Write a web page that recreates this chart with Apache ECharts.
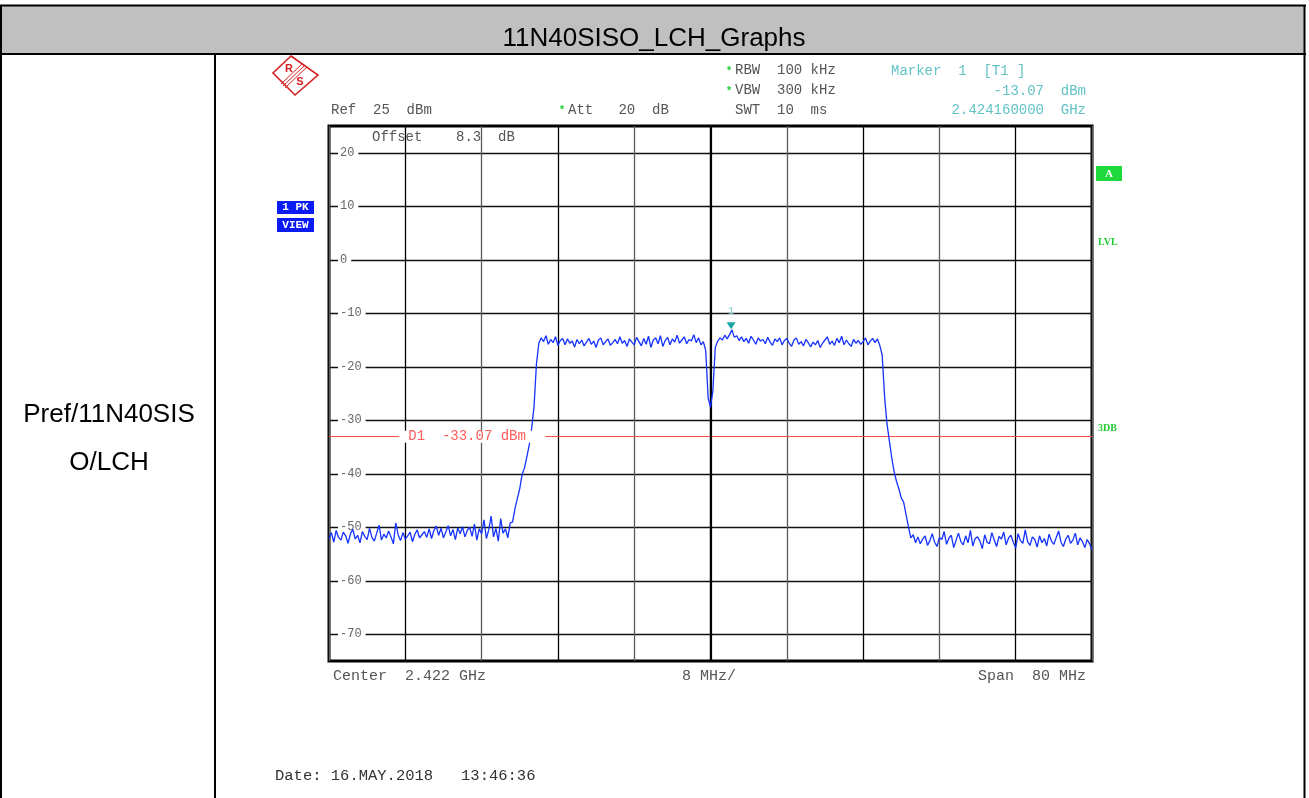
<!DOCTYPE html>
<html><head><meta charset="utf-8">
<script src="https://cdn.jsdelivr.net/npm/echarts@6/dist/echarts.min.js"></script>
<style>html,body{margin:0;padding:0;background:#fff}#c{width:1309px;height:798px}</style>
</head><body><div id="c"></div>
<script>
// ---- text / settings ----
const title = '11N40SISO_LCH_Graphs';
const rowLabel = ['Pref/11N40SIS', 'O/LCH'];
const centerMHz = 2422, spanMHz = 80, divMHz = 8, stepMHz = 0.25;
const refLevel = 25, bottomLevel = -75;
const yTickLabels = [20, 10, 0, -10, -20, -30, -40, -50, -60, -70];
const d1Level = -33.07;
const markerMHz = 2424.16, markerLevel = -13.07;

// ---- trace values (dBm), one every 0.25 MHz from 2382 MHz ----
const leftFloor = [-52.1,-51.0,-52.8,-50.6,-51.9,-52.4,-50.9,-51.6,-53.0,-51.2,-50.4,-52.2,-51.5,-52.9,-50.8,-51.7,-52.3,-50.2,-51.9,-52.6,
  -51.1,-49.6,-52.4,-51.3,-52.0,-50.7,-51.8,-53.1,-49.2,-51.4,-52.5,-51.0,-52.2,-51.6,-50.9,-52.7,-51.3,-50.5,-52.0,-51.4,
  -50.8,-51.9,-50.3,-52.1,-50.6,-49.8,-51.5,-50.2,-52.0,-50.9,-49.7,-51.6,-50.4,-52.3,-50.1,-51.2,-49.9,-51.8,-50.6,-50.0,
  -51.7,-49.4,-52.4,-50.3,-51.2,-48.6,-52.1,-50.5,-47.9,-51.8,-50.2,-52.6,-48.4,-51.1,-50.3,-52.0,-49.2];
const riseLeft = [-49.0,-46.5,-44.6,-42.8,-40.1,-38.9,-36.8,-34.6,-31.5,-27.4,-19.5,-15.6];
const topLeft = [-14.6,-15.3,-14.2,-15.8,-14.9,-15.5,-14.4,-16.0,-15.1,-14.7,-15.9,-14.8,-15.6,-15.2,-16.3,-14.9,-15.7,-15.0,-16.1,-15.4,
  -14.7,-15.8,-15.2,-16.4,-15.0,-14.6,-15.9,-15.3,-14.8,-16.0,-15.5,-14.9,-15.7,-14.4,-15.6,-15.1,-16.2,-14.8,-15.4,-15.9,
  -14.5,-15.3,-16.1,-14.7,-15.8,-14.3,-16.4,-15.0,-14.6,-15.7,-14.2,-16.2,-15.1,-14.5,-15.9,-14.8,-15.4,-14.1,-15.6,-15.0,
  -14.4,-15.7,-14.9,-15.2,-14.0,-15.5,-14.6,-15.9,-15.3];
const centerDip = [-17.0,-25.8,-27.6,-24.5,-16.4];
const topRight = [-15.2,-14.6,-15.0,-14.1,-14.8,-14.0,-13.1,-14.5,-14.2,-15.1,-14.4,-15.3,-14.7,-15.6,-14.3,-15.0,-15.8,-14.6,-15.2,-14.9,
  -15.7,-14.5,-15.4,-16.0,-14.8,-15.3,-14.6,-15.9,-15.1,-14.7,-15.6,-16.2,-15.0,-14.6,-15.8,-15.3,-16.1,-14.9,-15.5,-16.3,
  -15.4,-15.9,-15.1,-16.4,-15.6,-15.0,-14.4,-15.8,-15.2,-16.0,-14.7,-15.5,-14.3,-15.9,-15.0,-15.7,-16.2,-14.9,-15.6,-15.1,
  -15.8,-15.3,-14.6,-15.9,-15.2,-14.7,-15.5,-14.8,-16.0];
const fallRight = [-17.8,-25.5,-30.6,-33.8,-37.0,-39.6,-41.4,-42.8,-44.5,-45.3,-47.6,-49.9];
const rightFloor = [-52.0,-51.4,-52.9,-51.8,-53.1,-52.2,-51.6,-53.4,-52.5,-51.2,-52.8,-53.6,-51.9,-52.3,-50.8,-53.2,-52.0,-51.5,-53.8,-52.4,
  -51.1,-52.7,-53.3,-51.6,-52.9,-50.6,-53.5,-52.1,-51.8,-52.6,-54.0,-51.4,-52.8,-53.1,-51.0,-52.4,-53.6,-51.7,-52.2,-50.9,
  -53.3,-52.0,-51.5,-52.8,-53.9,-51.2,-52.5,-53.0,-50.5,-52.7,-53.4,-51.8,-52.3,-53.7,-51.6,-52.9,-52.1,-53.5,-51.3,-52.6,
  -53.2,-51.9,-50.7,-52.8,-53.6,-52.2,-51.5,-53.0,-52.4,-51.1,-53.3,-52.0,-52.7,-53.8,-52.3,-53.1,-54.2];

const trace = [].concat(leftFloor, riseLeft, topLeft, centerDip, topRight, fallRight, rightFloor);
const startMHz = centerMHz - spanMHz / 2;
const traceData = trace.map((v, i) => [i * stepMHz, v]);   // x = offset from start frequency

const MONO = '"Liberation Mono","DejaVu Sans Mono",monospace';
const SANS = '"Liberation Sans",Arial,sans-serif';
const GREY = '#555555', CYAN = '#62c3c6', GREEN = '#22cc33';

function txt(text, x, y, font, fill, align, extra) {
  return Object.assign({
    type: 'text', x: x, y: y, z: 50,
    style: { text: text, font: font, fill: fill, textAlign: align || 'left', align: align || 'left',
             textVerticalAlign: 'middle', verticalAlign: 'middle' }
  }, extra || {});
}
function line(x1, y1, x2, y2, w, c) {
  return { type: 'line', z: 40, shape: { x1, y1, x2, y2 }, style: { stroke: c || '#000', lineWidth: w } };
}
function rect(x, y, w, h, c) {
  return { type: 'rect', z: 30, shape: { x, y, width: w, height: h }, style: { fill: c } };
}

const chart = echarts.init(document.getElementById('c'), null, { renderer: 'canvas' });

const graphics = [
  // table frame
  rect(1, 6, 1303, 48, '#c0c0c0'),
  line(0, 5.5, 1306, 5.5, 2),
  line(0, 54, 1306, 54, 2),
  line(1, 5, 1, 798, 2),
  line(1304.5, 5, 1304.5, 798, 2),
  line(215, 54, 215, 798, 2),
  txt(title, 654, 39, '26px ' + SANS, '#000', 'center'),
  txt(rowLabel[0], 109, 415, '26px ' + SANS, '#000', 'center'),
  txt(rowLabel[1], 109, 463, '26px ' + SANS, '#000', 'center'),
  // R&S logo
  { type: 'polygon', z: 40, shape: { points: [[291, 56], [318, 75], [295, 95], [273, 73]] },
    style: { fill: 'none', stroke: '#d42020', lineWidth: 1.6 } },
  line(281, 84, 303, 63, 1, '#d42020'),
  line(283, 86, 305, 65, 1, '#d42020'),
  line(285, 88, 307, 67, 1, '#d42020'),
  txt('R', 289, 69, 'bold 11px ' + SANS, '#d42020', 'center'),
  txt('S', 300, 82, 'bold 11px ' + SANS, '#d42020', 'center'),
  // instrument settings
  txt('Ref  25  dBm', 331, 110, '14px ' + MONO, GREY),
  txt('*', 562, 110, 'bold 11px ' + MONO, GREEN, 'center'),
  txt('Att   20  dB', 568, 110, '14px ' + MONO, GREY),
  txt('*', 729, 71, 'bold 11px ' + MONO, GREEN, 'center'),
  txt('RBW  100 kHz', 735, 70, '14px ' + MONO, GREY),
  txt('*', 729, 91, 'bold 11px ' + MONO, GREEN, 'center'),
  txt('VBW  300 kHz', 735, 90, '14px ' + MONO, GREY),
  txt('SWT  10  ms', 735, 110, '14px ' + MONO, GREY),
  txt('Marker  1  [T1 ]', 891, 71, '14px ' + MONO, CYAN),
  txt('-13.07  dBm', 1086, 91, '14px ' + MONO, CYAN, 'right'),
  txt('2.424160000  GHz', 1086, 110, '14px ' + MONO, CYAN, 'right'),
  txt('Offset    8.3  dB', 372, 137, '14px ' + MONO, GREY),
  // trace info boxes
  rect(277, 201, 37, 13, '#0b1cf2'),
  txt('1 PK', 295.5, 207.5, 'bold 11px ' + MONO, '#fff', 'center'),
  rect(277, 218, 37, 14, '#0b1cf2'),
  txt('VIEW', 295.5, 225, 'bold 11px ' + MONO, '#fff', 'center'),
  rect(1096, 166, 26, 15, '#1ed83c'),
  txt('A', 1109, 174, 'bold 11px "Liberation Serif",serif', '#fff', 'center'),
  txt('LVL', 1098, 242, 'bold 10px "Liberation Serif",serif', GREEN),
  txt('3DB', 1098, 428, 'bold 10px "Liberation Serif",serif', GREEN),
  // bottom annotations
  txt('Center  2.422 GHz', 333, 676, '15px ' + MONO, GREY),
  txt('8 MHz/', 682, 676, '15px ' + MONO, GREY),
  txt('Span  80 MHz', 1086, 676, '15px ' + MONO, GREY, 'right'),
  txt('Date: 16.MAY.2018   13:46:36', 275, 776, '15.5px ' + MONO, '#333')
];

chart.setOption({
  animation: false,
  backgroundColor: '#fff',
  grid: { left: 329, top: 126, right: 1309 - 1092, bottom: 798 - 661, show: true,
          borderColor: '#000', borderWidth: 3, backgroundColor: 'transparent' },
  xAxis: {
    type: 'value', min: 0, max: spanMHz, interval: divMHz,
    axisLine: { show: false }, axisTick: { show: false }, axisLabel: { show: false },
    splitLine: { show: true, lineStyle: { color: ['#5a5a5a', '#000'], width: 1.3 } }
  },
  yAxis: {
    type: 'value', min: bottomLevel, max: refLevel, interval: 5,
    axisLine: { show: false }, axisTick: { show: false },
    splitLine: { show: true, lineStyle: { color: ['rgba(0,0,0,0)', '#111'], width: 1.3 } },
    axisLabel: {
      show: true, inside: true, margin: 9,
      formatter: v => yTickLabels.indexOf(v) >= 0 ? '{b|' + v + '}' : '',
      rich: { b: { fontFamily: MONO, fontSize: 12, color: '#666', backgroundColor: '#fff', padding: [1, 4, 1, 2] } }
    }
  },
  series: [{
    type: 'line', data: traceData, showSymbol: false, symbol: 'none', z: 5,
    lineStyle: { color: '#1532ff', width: 1.3 },
    markLine: {
      silent: true, symbol: 'none', animation: false,
      label: { show: false },
      data: [
        { yAxis: d1Level, lineStyle: { color: '#ff4a4a', width: 1, type: 'solid' } },
        { xAxis: spanMHz / 2, lineStyle: { color: '#000', width: 2.2, type: 'solid' } }
      ]
    },
    markPoint: {
      silent: true, symbol: 'triangle', symbolRotate: 180, symbolSize: [9, 7], symbolOffset: [0, -4],
      itemStyle: { color: '#1aa3a3' },
      label: { show: true, position: 'top', distance: 6, formatter: '1', color: '#7cc9c9', fontSize: 10, fontFamily: MONO },
      data: [{ coord: [markerMHz - startMHz, markerLevel] }]
    }
  }],
  graphic: graphics
});

// D1 display-line label placed through the chart scale
const d1y = chart.convertToPixel({ yAxisIndex: 0 }, d1Level);
const d1x = chart.convertToPixel({ xAxisIndex: 0 }, 8);
graphics.push(rect(d1x - 6, d1y - 6, 146, 12, '#fff'));
graphics.push(txt('D1  -33.07 dBm', d1x + 3, d1y, '14px ' + MONO, '#ff5c5c'));
chart.setOption({ graphic: graphics });
</script>
</body></html>
